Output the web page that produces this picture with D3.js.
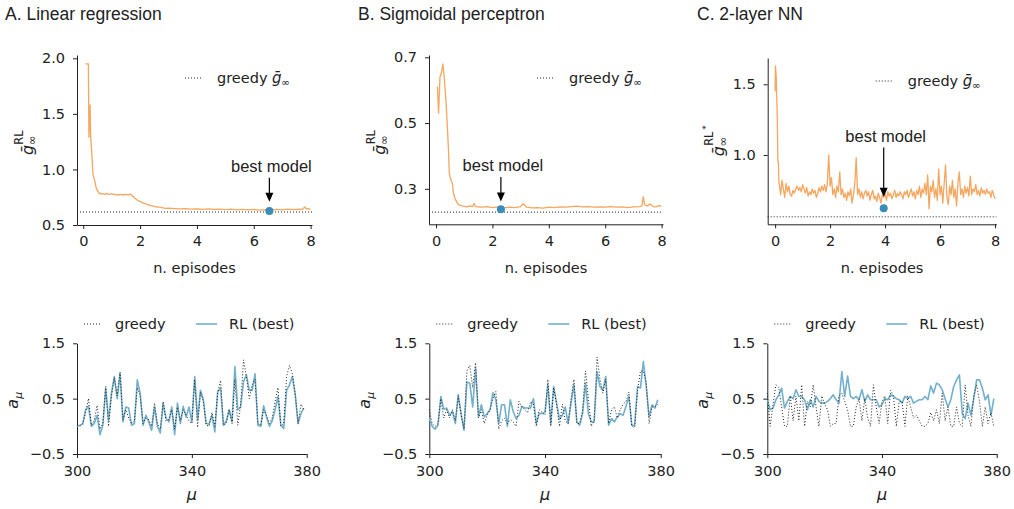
<!DOCTYPE html>
<html>
<head>
<meta charset="utf-8">
<script src="https://cdn.jsdelivr.net/npm/d3@7"></script>
<style>
  body { margin: 0; background: #fff; }
  text { font-family: "DejaVu Sans", sans-serif; fill: #222; }
  .title, .annot { font-family: "Liberation Sans", Arial, sans-serif; }
</style>
</head>
<body>
<div id="chart"></div>
<script>
const ORANGE = "#f5a65f";
const BLUE = "#73b0cc";
const DOT = "#3a8dba";
const FS = 14.5;

// tick labels
const episodeTicks = [0, 2, 4, 6, 8];
const muTicks = [300, 340, 380];
const aTicks = [-0.5, 0.5, 1.5];
const yTicksTop = [[0.5, 1.0, 1.5, 2.0], [0.3, 0.5, 0.7], [1.0, 1.5]];
const titles = ["A. Linear regression", "B. Sigmoidal perceptron", "C. 2-layer NN"];

// top row: g_inf^RL vs episodes  [episode, value]
const linRegCurve = [
  [0.08,1.95],[0.18,1.95],[0.2,1.29],[0.22,1.45],[0.24,1.58],[0.26,1.3],[0.3,1.15],[0.34,0.96],
  [0.38,0.92],[0.42,0.88],[0.46,0.83],[0.52,0.80],[0.58,0.78],[0.64,0.785],[0.7,0.78],[0.76,0.775],
  [0.82,0.785],[0.9,0.775],[1.0,0.78],[1.1,0.775],[1.2,0.77],[1.3,0.775],[1.4,0.77],[1.5,0.775],
  [1.6,0.77],[1.65,0.78],[1.7,0.77],[1.8,0.745],[1.9,0.725],[2.0,0.71],[2.1,0.70],[2.2,0.69],
  [2.3,0.68],[2.4,0.675],[2.5,0.668],[2.6,0.662],[2.7,0.66],[2.8,0.655],[2.9,0.65],[3.0,0.652],
  [3.2,0.648],[3.4,0.645],[3.6,0.647],[3.8,0.642],[4.0,0.644],[4.2,0.641],[4.4,0.645],[4.6,0.64],
  [4.8,0.643],[5.0,0.638],[5.2,0.642],[5.4,0.637],[5.6,0.641],[5.8,0.636],[6.0,0.64],[6.2,0.634],
  [6.4,0.638],[6.6,0.633],[6.8,0.64],[7.0,0.636],[7.2,0.642],[7.4,0.638],[7.6,0.643],[7.7,0.64],
  [7.8,0.662],[7.85,0.645],[7.9,0.648],[8.0,0.64]
];
const sigmoidCurve = [
  [0.05,0.611],[0.09,0.53],[0.14,0.64],[0.2,0.656],[0.24,0.68],[0.28,0.65],[0.35,0.57],[0.4,0.49],
  [0.44,0.42],[0.47,0.347],[0.53,0.326],[0.58,0.316],[0.61,0.29],[0.67,0.27],[0.79,0.252],[0.97,0.247],
  [1.1,0.245],[1.2,0.248],[1.3,0.246],[1.35,0.256],[1.4,0.246],[1.6,0.244],[1.8,0.246],[2.0,0.243],
  [2.2,0.245],[2.4,0.242],[2.6,0.244],[2.8,0.243],[3.0,0.246],[3.1,0.255],[3.2,0.244],[3.4,0.242],
  [3.6,0.243],[3.8,0.241],[4.0,0.244],[4.2,0.243],[4.4,0.245],[4.6,0.244],[4.8,0.246],[5.0,0.247],
  [5.2,0.245],[5.4,0.246],[5.6,0.244],[5.8,0.245],[6.0,0.244],[6.2,0.246],[6.4,0.244],[6.6,0.245],
  [6.8,0.243],[7.0,0.245],[7.2,0.246],[7.3,0.248],[7.35,0.276],[7.4,0.25],[7.5,0.248],[7.6,0.254],
  [7.7,0.246],[7.8,0.245],[7.9,0.249],[8.0,0.247]
];
const nnHead = [[0.0,1.45],[0.01,1.63],[0.04,1.55],[0.08,1.25],[0.1,0.96],[0.12,0.95],[0.14,0.8]];
const nnStart = 0.15, nnStep = 0.05;
const nnTail = [
  0.80,0.72,0.82,0.76,0.70,0.80,0.74,0.78,0.72,0.71,0.75,0.73,0.76,0.78,0.75,0.77,0.74,0.79,0.76,0.73,
  0.77,0.71,0.74,0.72,0.76,0.73,0.75,0.70,0.73,0.77,0.74,0.78,0.75,0.79,0.74,0.80,1.00,0.78,0.84,0.72,
  0.76,0.70,0.78,0.74,0.88,0.72,0.76,0.70,0.73,0.68,0.74,0.71,0.76,0.66,0.72,0.80,0.98,0.72,0.76,0.70,
  0.74,0.69,0.73,0.75,0.71,0.74,0.68,0.72,0.75,0.69,0.71,0.67,0.73,0.70,0.66,0.72,0.70,0.73,0.68,0.74,
  0.71,0.73,0.69,0.72,0.75,0.70,0.73,0.71,0.74,0.72,0.69,0.74,0.72,0.75,0.70,0.73,0.76,0.71,0.74,0.69,
  0.75,0.72,0.78,0.70,0.76,0.73,0.80,0.72,0.86,0.62,0.78,0.74,0.82,0.70,0.76,0.68,0.90,0.72,0.78,0.66,
  0.80,0.93,0.70,0.65,0.78,0.72,0.82,0.70,0.76,0.64,0.80,0.88,0.72,0.76,0.70,0.78,0.73,0.77,0.71,0.85,
  0.72,0.76,0.74,0.79,0.72,0.75,0.71,0.77,0.73,0.75,0.72,0.76,0.73,0.74,0.70,0.75,0.72,0.69
];
const nnCurve = nnHead.concat(nnTail.map((v, i) => [nnStart + i * nnStep, v]));

const greedyLevel = [0.617, 0.229, 0.563];
const bestModel = [[6.55, 0.626], [2.3, 0.238], [3.95, 0.623]];
const bestLabelAt = [[6.55, 0.98], [2.3, 0.354], [3.95, 1.095]];
const bestArrowTip = [0.71, 0.261, 0.705];

// bottom row: a_mu for mu = 300..379
const mu = d3.range(300, 380);
const linRegRL = [
  0.0,0.02,0.04,0.3,0.36,0.0,0.05,0.2,-0.15,0.02, 0.69,0.1,0.6,0.9,0.5,0.96,0.08,0.35,0.33,0.02,
  0.05,0.84,0.6,0.02,0.2,0.08,-0.07,0.35,0.0,-0.12, 0.41,0.15,0.08,0.35,-0.15,0.42,0.05,0.36,0.17,0.35,
  0.08,0.9,0.12,0.65,0.48,0.05,0.04,0.2,-0.1,0.63, 0.69,0.02,0.1,0.3,0.08,1.08,0.3,0.35,0.81,0.93,
  0.65,0.65,0.95,0.02,0.0,0.37,0.17,0.0,0.1,0.3, 0.54,0.02,-0.04,0.65,0.75,0.9,0.57,0.05,0.23,0.33
];
const linRegGreedy = [
  0.02,0.0,0.05,0.25,0.5,0.02,0.1,0.38,-0.05,0.05, 0.72,0.0,0.55,0.88,0.55,0.98,0.12,0.3,0.15,0.05,
  0.1,0.7,0.55,0.05,0.15,0.12,0.0,0.42,0.05,-0.05, 0.45,0.1,0.12,0.3,-0.05,0.35,0.1,0.3,0.2,0.1,
  0.05,0.85,-0.02,0.62,0.45,0.02,0.0,0.25,0.0,0.6, 0.83,0.02,0.05,0.3,0.05,0.85,0.02,0.4,1.2,0.9,
  0.5,0.75,0.85,0.05,0.02,0.3,0.2,0.05,0.15,0.45, 0.7,0.0,0.05,0.9,1.1,0.95,0.6,0.05,0.4,0.3
];
const sigmoidRL = [
  0.14,0.0,-0.05,0.02,0.54,0.31,0.33,0.2,0.27,0.05, 0.57,0.23,-0.07,0.8,0.78,0.35,1.05,0.17,0.39,0.17,
  0.23,0.3,0.61,0.48,0.05,0.39,0.39,0.0,0.48,0.27, 0.14,0.2,0.36,0.33,0.33,0.33,0.5,0.05,0.23,0.23,
  0.26,0.75,0.05,0.72,0.42,0.13,0.2,0.35,0.05,0.42, 0.75,0.08,0.02,0.23,0.78,0.23,0.08,0.08,0.99,0.72,
  0.65,0.9,0.02,0.14,0.08,0.17,0.23,0.2,0.36,0.54, 0.02,0.02,0.72,0.69,1.17,0.72,0.17,0.39,0.33,0.48
];
const sigmoidGreedy = [
  0.3,0.05,0.0,0.05,0.5,0.15,0.3,0.15,0.3,0.1, 0.55,0.2,-0.05,1.0,1.1,0.7,1.15,0.15,0.3,0.05,
  0.2,0.3,0.5,0.63,-0.05,0.1,0.15,0.05,0.12,0.08, 0.0,0.45,0.35,0.3,0.25,0.45,0.4,0.0,0.3,0.25,
  0.2,0.85,0.0,0.7,0.4,0.0,0.4,0.1,0.05,0.5, 0.85,0.05,0.05,0.3,1.0,0.5,0.0,0.1,1.25,0.85,
  0.6,0.85,0.05,0.3,0.35,0.15,0.3,0.4,0.45,0.62, 0.0,-0.02,0.65,1.0,1.0,0.8,0.05,0.35,0.35,0.4
];
const nnRL = [
  0.48,0.3,0.33,0.48,0.57,0.69,0.33,0.45,0.54,0.5, 0.66,0.54,0.54,0.48,0.3,0.48,0.35,0.54,0.45,0.42,
  0.42,0.45,0.5,0.57,0.48,0.42,0.99,0.54,0.91,0.54, 0.5,0.54,0.48,0.66,0.45,0.57,0.48,0.48,0.48,0.35,
  0.39,0.5,0.48,0.57,0.54,0.5,0.48,0.42,0.54,0.5, 0.54,0.42,0.45,0.48,0.48,0.54,0.48,0.73,0.6,0.78,
  0.75,0.66,0.5,0.35,0.48,0.72,0.84,0.93,0.23,0.14, 0.42,0.2,0.5,0.84,0.84,0.69,0.48,0.57,0.2,0.5
];
const nnGreedy = [
  0.6,0.0,0.4,0.75,0.7,0.35,0.0,0.0,0.55,0.1, 0.55,0.1,0.75,0.0,0.45,0.35,0.75,0.35,0.0,0.55,
  0.4,0.3,0.0,0.05,0.05,0.55,0.6,0.45,0.3,0.0, 0.0,0.35,0.5,0.1,0.5,0.15,0.0,0.75,0.35,0.05,
  0.45,0.55,0.05,0.65,0.55,0.0,0.45,0.45,0.0,0.55, 0.35,0.15,0.2,0.1,0.0,0.0,0.05,0.25,0.1,0.3,
  0.05,0.6,0.1,0.35,0.0,0.0,0.35,0.05,0.0,0.75, 0.2,0.0,0.55,0.75,0.45,0.0,0.35,0.05,0.25,0.0
];

const topCurves = [linRegCurve, sigmoidCurve, nnCurve];
const bottomRL = [linRegRL, sigmoidRL, nnRL];
const bottomGreedy = [linRegGreedy, sigmoidGreedy, nnGreedy];

// layout
const topPanels = [
  { left: 77, right: 312, top: 55, bottom: 225, xDom: [-0.22, 8.05], yDom: [0.5, 2.03] },
  { left: 429, right: 663, top: 55, bottom: 224.3, xDom: [-0.25, 8.05], yDom: [0.192, 0.707] },
  { left: 767.7, right: 996.4, top: 58, bottom: 224.3, xDom: [-0.27, 8.05], yDom: [0.51, 1.686] }
];
const bottomPanels = [
  { left: 77, right: 306.7 },
  { left: 429.3, right: 660.7 },
  { left: 767.3, right: 996.7 }
];
const titleX = [5, 358, 697];

const svg = d3.select("#chart").append("svg")
  .attr("width", 1014)
  .attr("height", 509);

function styleAxis(g) {
  g.attr("font-family", "DejaVu Sans").attr("font-size", FS);
  g.selectAll("path.domain").attr("stroke", "#222").attr("stroke-width", 1);
  g.selectAll(".tick line").attr("stroke", "#222").attr("stroke-width", 1);
  g.selectAll(".tick text").attr("fill", "#222");
}

// g-bar with subscript infinity, optional superscript
function gBar(sel, x, y, size, sup, star) {
  const s = size / 14;
  sel.append("text").attr("x", x).attr("y", y)
    .attr("font-size", size).attr("font-style", "italic").text("\u1E21");
  sel.append("text").attr("x", x + 8.5 * s).attr("y", y + 3 * s)
    .attr("font-size", 10 * s).text("\u221E");
  if (sup) {
    sel.append("text").attr("x", x + 9 * s).attr("y", y - 9 * s)
      .attr("font-size", 10 * s).text(sup);
    if (star) {
      sel.append("text").attr("x", x + 23 * s).attr("y", y - 13 * s)
        .attr("font-size", 8 * s).text("*");
    }
  }
}

function drawTop(i) {
  const p = topPanels[i];
  const g = svg.append("g");
  const x = d3.scaleLinear().domain(p.xDom).range([p.left, p.right]);
  const y = d3.scaleLinear().domain(p.yDom).range([p.bottom, p.top]);

  g.append("g")
    .attr("transform", `translate(0,${p.bottom})`)
    .call(d3.axisBottom(x).tickValues(episodeTicks).tickFormat(d3.format("d"))
      .tickSize(4).tickSizeOuter(0).tickPadding(7))
    .call(styleAxis);
  g.append("g")
    .attr("transform", `translate(${p.left},0)`)
    .call(d3.axisLeft(y).tickValues(yTicksTop[i]).tickFormat(d3.format(".1f"))
      .tickSize(4).tickSizeOuter(0).tickPadding(8))
    .call(styleAxis);

  // greedy reference
  g.append("line")
    .attr("x1", p.left).attr("x2", p.right)
    .attr("y1", y(greedyLevel[i])).attr("y2", y(greedyLevel[i]))
    .attr("stroke", "#222").attr("stroke-width", 1).attr("stroke-dasharray", "1,2");

  const line = d3.line().x(d => x(d[0])).y(d => y(d[1]));
  g.append("path")
    .datum(topCurves[i])
    .attr("d", line)
    .attr("fill", "none")
    .attr("stroke", ORANGE)
    .attr("stroke-width", 1.3)
    .attr("stroke-linejoin", "round");

  // best model
  const bx = x(bestModel[i][0]);
  g.append("circle")
    .attr("cx", bx).attr("cy", y(bestModel[i][1]))
    .attr("r", 4).attr("fill", DOT);
  const ty = y(bestLabelAt[i][1]);
  const tip = y(bestArrowTip[i]);
  g.append("text").attr("class", "annot")
    .attr("x", x(bestLabelAt[i][0]) + 2).attr("y", ty)
    .attr("text-anchor", "middle").attr("font-size", 16.5)
    .text("best model");
  g.append("line")
    .attr("x1", bx).attr("x2", bx)
    .attr("y1", ty + 6).attr("y2", tip - 8)
    .attr("stroke", "#000").attr("stroke-width", 1.2);
  g.append("path")
    .attr("d", `M${bx},${tip} L${bx - 4},${tip - 9} L${bx + 4},${tip - 9} Z`)
    .attr("fill", "#000");

  // legend
  const lx = p.left + 108, ly = p.top + 23;
  g.append("line")
    .attr("x1", lx).attr("x2", lx + 18).attr("y1", ly).attr("y2", ly)
    .attr("stroke", "#222").attr("stroke-dasharray", "1,2");
  g.append("text").attr("x", lx + 32).attr("y", ly + 5)
    .attr("font-size", FS).text("greedy");
  gBar(g, lx + 87, ly + 5, 15);

  // axis labels
  g.append("text")
    .attr("x", (p.left + p.right) / 2).attr("y", 273)
    .attr("text-anchor", "middle").attr("font-size", FS)
    .text("n.  episodes");
  const yl = g.append("g")
    .attr("transform", `translate(${p.left - 44},${(p.top + p.bottom) / 2}) rotate(-90)`);
  gBar(yl, -15, 0, 16, "RL", i === 2);

  // title
  svg.append("text").attr("class", "title")
    .attr("x", titleX[i]).attr("y", 20)
    .attr("font-size", 17.5)
    .text(titles[i]);
}

function drawBottom(i) {
  const p = bottomPanels[i];
  const top = 343.3, bottom = 454;
  const g = svg.append("g");
  const x = d3.scaleLinear().domain([300, 380]).range([p.left, p.right]);
  const y = d3.scaleLinear().domain([-0.5, 1.5]).range([bottom, top]);

  g.append("g")
    .attr("transform", `translate(0,${bottom})`)
    .call(d3.axisBottom(x).tickValues(muTicks).tickFormat(d3.format("d"))
      .tickSize(4).tickSizeOuter(0).tickPadding(8))
    .call(styleAxis);
  g.append("g")
    .attr("transform", `translate(${p.left},0)`)
    .call(d3.axisLeft(y).tickValues(aTicks).tickFormat(d3.format(".1f"))
      .tickSize(4).tickSizeOuter(0).tickPadding(8))
    .call(styleAxis);

  const line = vals => d3.line().x((d, k) => x(mu[k])).y(d => y(d))(vals);
  g.append("path")
    .attr("d", line(bottomRL[i]))
    .attr("fill", "none").attr("stroke", BLUE)
    .attr("stroke-width", 1.6).attr("stroke-linejoin", "round");
  g.append("path")
    .attr("d", line(bottomGreedy[i]))
    .attr("fill", "none").attr("stroke", "#222")
    .attr("stroke-width", 1).attr("stroke-dasharray", "1,2");

  // legend
  const ly = 324;
  g.append("line")
    .attr("x1", p.left + 7).attr("x2", p.left + 24).attr("y1", ly).attr("y2", ly)
    .attr("stroke", "#222").attr("stroke-dasharray", "1,2");
  g.append("text").attr("x", p.left + 38).attr("y", ly + 5)
    .attr("font-size", FS).text("greedy");
  g.append("line")
    .attr("x1", p.left + 119).attr("x2", p.left + 140).attr("y1", ly).attr("y2", ly)
    .attr("stroke", BLUE).attr("stroke-width", 1.6);
  g.append("text").attr("x", p.left + 152).attr("y", ly + 5)
    .attr("font-size", FS).text("RL (best)");

  // axis labels
  g.append("text")
    .attr("x", (p.left + p.right) / 2).attr("y", 500)
    .attr("text-anchor", "middle").attr("font-size", 16).attr("font-style", "italic")
    .text("\u03BC");
  const yl = g.append("g")
    .attr("transform", `translate(${p.left - 59},${(top + bottom) / 2}) rotate(-90)`);
  yl.append("text").attr("x", -10).attr("y", 0)
    .attr("font-size", 16).attr("font-style", "italic").text("a");
  yl.append("text").attr("x", 0).attr("y", 4)
    .attr("font-size", 11).attr("font-style", "italic").text("\u03BC");
}

[0, 1, 2].forEach(i => { drawTop(i); drawBottom(i); });
</script>
</body>
</html>
